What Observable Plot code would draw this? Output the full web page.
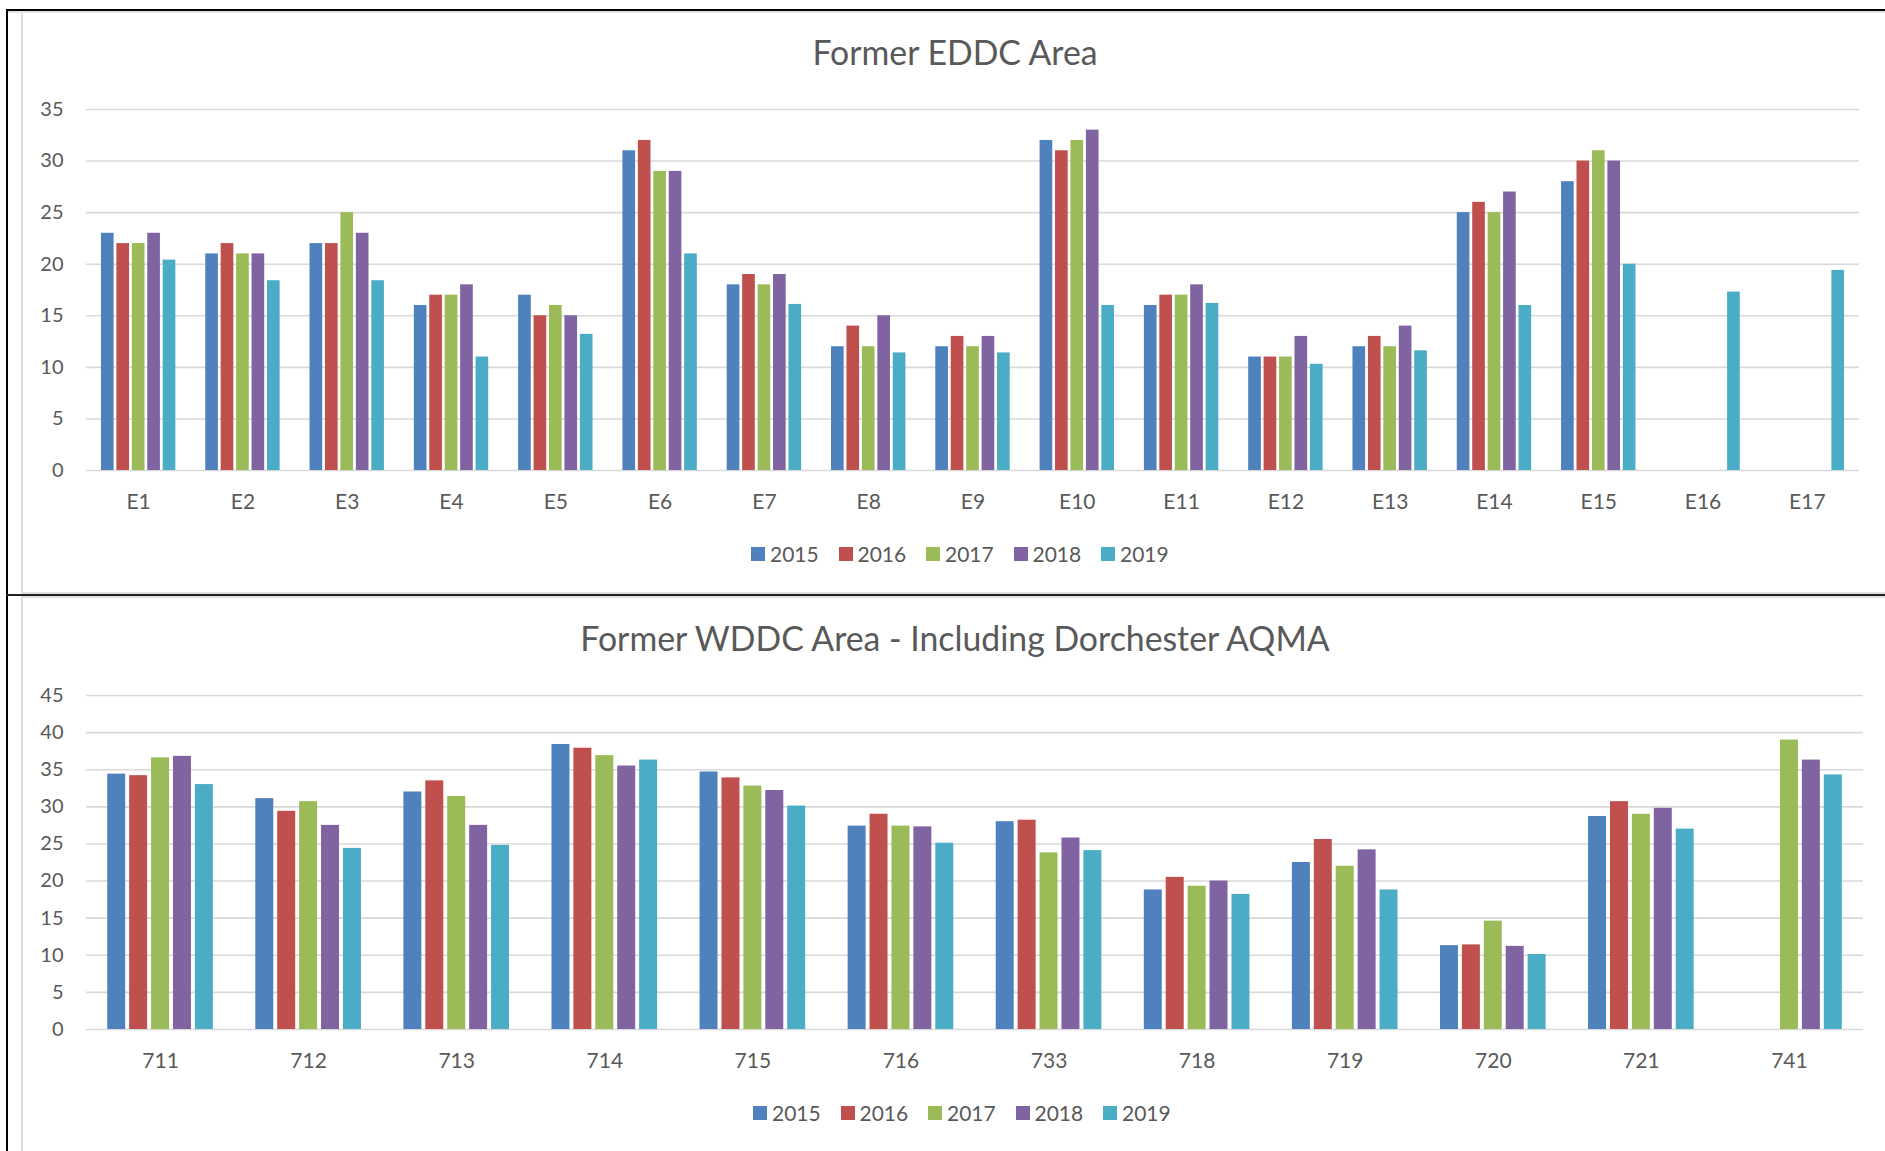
<!DOCTYPE html>
<html>
<head>
<meta charset="utf-8">
<script src="https://cdn.jsdelivr.net/npm/d3@7"></script>
<script src="https://cdn.jsdelivr.net/npm/@observablehq/plot@0.6"></script>
<style>
  html, body { margin: 0; padding: 0; background: #fff; }
  body { width: 1885px; height: 1151px; overflow: hidden; font-family: Lato, "Open Sans", sans-serif; }
  #page { position: relative; width: 1885px; height: 1151px; }
  .abs { position: absolute; }
  .title { color: #595959; font-size: 33.8px; text-align: center; line-height: 40px; white-space: nowrap; }
  .legend { display: flex; align-items: center; height: 24px; }
  .legend .item { display: flex; align-items: center; width: 87.5px; }
  .legend .sw { width: 14px; height: 14px; margin-right: 5px; }
  .legend .lbl { color: #595959; font-size: 21px; line-height: 24px; }
</style>
</head>
<body>
<div id="page"></div>
<script>
// ---------- data ----------
const years = ["2015", "2016", "2017", "2018", "2019"];
const yearColors = ["#4F81BD", "#C0504D", "#9BBB59", "#8064A2", "#4BACC6"];

const eddcTitle = "Former EDDC Area";
const eddcSites = ["E1","E2","E3","E4","E5","E6","E7","E8","E9","E10","E11","E12","E13","E14","E15","E16","E17"];
const eddc2015 = [23, 21, 22, 16, 17, 31, 18, 12, 12, 32, 16, 11, 12, 25, 28, null, null];
const eddc2016 = [22, 22, 22, 17, 15, 32, 19, 14, 13, 31, 17, 11, 13, 26, 30, null, null];
const eddc2017 = [22, 21, 25, 17, 16, 29, 18, 12, 12, 32, 17, 11, 12, 25, 31, null, null];
const eddc2018 = [23, 21, 23, 18, 15, 29, 19, 15, 13, 33, 18, 13, 14, 27, 30, null, null];
const eddc2019 = [20.4, 18.4, 18.4, 11, 13.2, 21, 16.1, 11.4, 11.4, 16, 16.2, 10.3, 11.6, 16, 20, 17.3, 19.4];
const eddcTicks = [0, 5, 10, 15, 20, 25, 30, 35];

const wddcTitle = "Former WDDC Area - Including Dorchester AQMA";
const wddcSites = ["711","712","713","714","715","716","733","718","719","720","721","741"];
const wddc2015 = [34.4, 31.1, 32.0, 38.4, 34.7, 27.4, 28.0, 18.8, 22.5, 11.3, 28.7, null];
const wddc2016 = [34.2, 29.4, 33.5, 37.9, 33.9, 29.0, 28.2, 20.5, 25.6, 11.4, 30.7, null];
const wddc2017 = [36.6, 30.7, 31.4, 36.9, 32.8, 27.4, 23.8, 19.3, 22.0, 14.6, 29.0, 39.0];
const wddc2018 = [36.8, 27.5, 27.5, 35.5, 32.2, 27.3, 25.8, 20.0, 24.2, 11.2, 29.8, 36.3];
const wddc2019 = [33.0, 24.4, 24.8, 36.3, 30.1, 25.1, 24.1, 18.2, 18.8, 10.1, 27.0, 34.3];
const wddcTicks = [0, 5, 10, 15, 20, 25, 30, 35, 40, 45];

// ---------- helpers ----------
const page = document.getElementById("page");
function box(css) {
  const d = document.createElement("div");
  d.className = "abs";
  Object.assign(d.style, css);
  page.appendChild(d);
  return d;
}

function rowsOf(sites, series) {
  const rows = [];
  sites.forEach((s, i) => {
    series.forEach((arr, k) => {
      if (arr[i] != null) rows.push({site: s, year: years[k], value: arr[i]});
    });
  });
  return rows;
}

const font = "Lato, 'Open Sans', sans-serif";

// grid + y labels (continuous across categories)
function gridLayer(ticks, o) {
  return Plot.plot({
    width: 1885, height: o.height,
    marginLeft: 86, marginRight: o.marginRight, marginTop: o.marginTop, marginBottom: o.marginBottom,
    style: {fontFamily: font, fontSize: "20px", color: "#595959", background: "transparent", overflow: "visible"},
    y: {domain: [0, ticks[ticks.length - 1]], axis: null},
    marks: [
      Plot.ruleY(ticks, {stroke: "#d9d9d9", strokeWidth: 1.6}),
      Plot.text(ticks, {y: d => d, text: d => String(d), frameAnchor: "left", textAnchor: "end", dx: -23, fill: "#595959", fontSize: 20})
    ]
  });
}

// grouped bars + category labels
function barLayer(sites, series, ticks, o) {
  const rows = rowsOf(sites, series);
  return Plot.plot({
    width: 1885, height: o.height,
    marginLeft: 86, marginRight: o.marginRight, marginTop: o.marginTop, marginBottom: o.marginBottom,
    style: {fontFamily: font, fontSize: "21px", color: "#595959", background: "transparent", overflow: "visible"},
    fx: {domain: sites, round: false, paddingInner: 0.26, paddingOuter: 0.13, label: null, axis: "bottom", tickSize: 0, tickPadding: o.fxPad},
    x: {domain: years, round: false, axis: null, paddingInner: 0.18, paddingOuter: 0.09},
    y: {domain: [0, ticks[ticks.length - 1]], axis: null},
    color: {domain: years, range: yearColors},
    marks: [
      Plot.barY(rows, {fx: "site", x: "year", y: "value", fill: "year"})
    ]
  });
}

function legend(left, centerY) {
  const lg = box({left: left + "px", top: (centerY - 12) + "px"});
  lg.classList.add("legend");
  years.forEach((y, k) => {
    const it = document.createElement("div");
    it.className = "item";
    const sw = document.createElement("div");
    sw.className = "sw";
    sw.style.background = yearColors[k];
    const lb = document.createElement("span");
    lb.className = "lbl";
    lb.textContent = y;
    it.appendChild(sw); it.appendChild(lb);
    lg.appendChild(it);
  });
}

function placeChart(top, sites, series, ticks, o) {
  const g = box({left: "0px", top: top + "px"});
  g.appendChild(gridLayer(ticks, o));
  const b = box({left: "0px", top: top + "px"});
  b.appendChild(barLayer(sites, series, ticks, o));
}

// ---------- frame lines (document look) ----------
box({left: "21px", top: "11px", width: "2px", height: "1140px", background: "#dcdcdc"});
box({left: "6px", top: "11px", width: "1879px", height: "2px", background: "#e4e4e4"});
box({left: "21px", top: "592px", width: "1864px", height: "2px", background: "#e0e0e0"});
box({left: "21px", top: "596px", width: "1864px", height: "2px", background: "#e0e0e0"});
box({left: "6px", top: "9px", width: "2px", height: "1142px", background: "#000"});
box({left: "6px", top: "9px", width: "1879px", height: "2px", background: "#000"});
box({left: "6px", top: "594px", width: "1879px", height: "2px", background: "#222"});

// ---------- top chart ----------
const t1 = box({left: "21px", width: "1868px", top: (52 - 20) + "px"});
t1.classList.add("title");
t1.textContent = eddcTitle;
placeChart(90, eddcSites, [eddc2015, eddc2016, eddc2017, eddc2018, eddc2019], eddcTicks,
  {height: 440, marginTop: 19, marginBottom: 60, marginRight: 26, fxPad: 24});
legend(751, 554);

// ---------- bottom chart ----------
const t2 = box({left: "21px", width: "1868px", top: (638 - 20) + "px"});
t2.classList.add("title");
t2.textContent = wddcTitle;
placeChart(675, wddcSites, [wddc2015, wddc2016, wddc2017, wddc2018, wddc2019], wddcTicks,
  {height: 414, marginTop: 20, marginBottom: 60, marginRight: 22, fxPad: 24});
legend(753, 1113);
</script>
</body>
</html>
